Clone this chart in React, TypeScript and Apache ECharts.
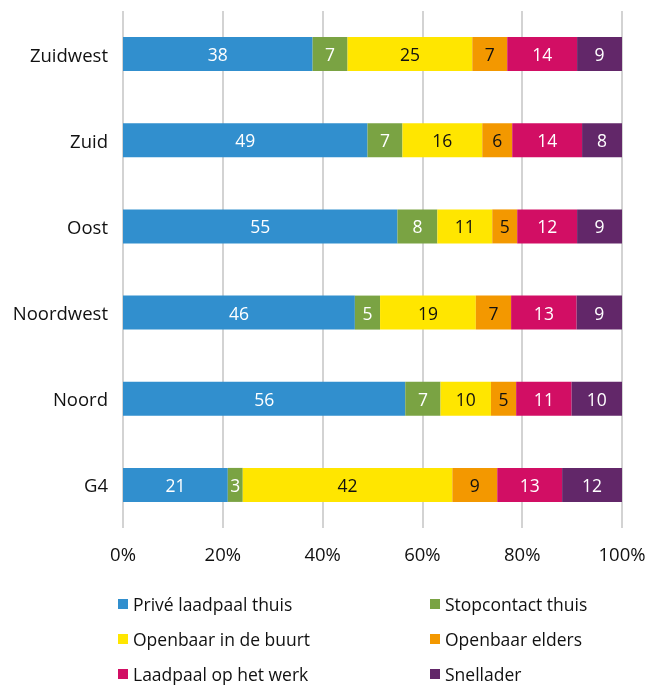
import React, { useEffect, useRef } from "react";
import * as echarts from "echarts";

const categories = ["Zuidwest", "Zuid", "Oost", "Noordwest", "Noord", "G4"];
const seriesNames = [
  "Privé laadpaal thuis",
  "Stopcontact thuis",
  "Openbaar in de buurt",
  "Openbaar elders",
  "Laadpaal op het werk",
  "Snellader",
];
const priveThuis = [38, 49, 55, 46, 56, 21];
const stopcontactThuis = [7, 7, 8, 5, 7, 3];
const openbaarBuurt = [25, 16, 11, 19, 10, 42];
const openbaarElders = [7, 6, 5, 7, 5, 9];
const laadpaalWerk = [14, 14, 12, 13, 11, 13];
const snellader = [9, 8, 9, 9, 10, 12];
const xTickLabels = ["0%", "20%", "40%", "60%", "80%", "100%"];

const colors = ["#318FCE", "#7AA343", "#FFE600", "#F39800", "#D20E64", "#622769"];
const labelColors = ["#ffffff", "#ffffff", "#111111", "#111111", "#ffffff", "#ffffff"];

const FONT = "'Open Sans', 'Noto Sans', sans-serif";

export default function App() {
  const ref = useRef<HTMLDivElement>(null);
  useEffect(() => {
    if (!ref.current) return;
    const chart = echarts.init(ref.current, undefined, { renderer: "svg" });
    const all = [priveThuis, stopcontactThuis, openbaarBuurt, openbaarElders, laadpaalWerk, snellader];
    const totals = categories.map((_, i) => all.reduce((s, arr) => s + arr[i], 0));
    const series = all.map((arr, k) => ({
      name: seriesNames[k],
      type: "bar",
      stack: "total",
      barWidth: 34,
      itemStyle: { color: colors[k] },
      label: {
        show: true,
        position: "inside",
        color: labelColors[k],
        fontFamily: FONT,
        fontSize: 17.5,
        formatter: (p: any) => String(arr[p.dataIndex]),
      },
      data: arr.map((v, i) => (v / totals[i]) * 100),
    }));
    const legendCommon = {
      orient: "vertical",
      icon: "rect",
      padding: 0,
      height: 120,
      itemWidth: 10,
      itemHeight: 10,
      itemGap: 17,
      itemTextGap: 13,
      textStyle: { fontFamily: FONT, fontSize: 17.5, color: "#111", lineHeight: 18 },
      selectedMode: false,
    };
    chart.setOption({
      animation: false,
      grid: { left: 123, right: 32, top: 11, bottom: 161 },
      xAxis: {
        type: "value",
        min: 0,
        max: 100,
        interval: 20,
        axisLine: { show: false },
        axisTick: { show: false },
        splitLine: { lineStyle: { color: "#c4c4c4", width: 1.5 } },
        axisLabel: {
          margin: 16,
          fontFamily: FONT,
          fontSize: 18.5,
          color: "#111",
          formatter: (v: number) => xTickLabels[Math.round(v / 20)],
        },
      },
      yAxis: {
        type: "category",
        data: categories,
        inverse: true,
        axisLine: { show: false },
        axisTick: { show: false },
        axisLabel: { margin: 15, fontFamily: FONT, fontSize: 18.5, color: "#111" },
      },
      legend: [
        { ...legendCommon, left: 118, top: 595, data: [seriesNames[0], seriesNames[2], seriesNames[4]] },
        { ...legendCommon, left: 430, top: 595, data: [seriesNames[1], seriesNames[3], seriesNames[5]] },
      ],
      series,
    });
    return () => chart.dispose();
  }, []);
  return <div ref={ref} style={{ position: "fixed", left: 0, top: 0, width: 654, height: 689 }} />;
}
